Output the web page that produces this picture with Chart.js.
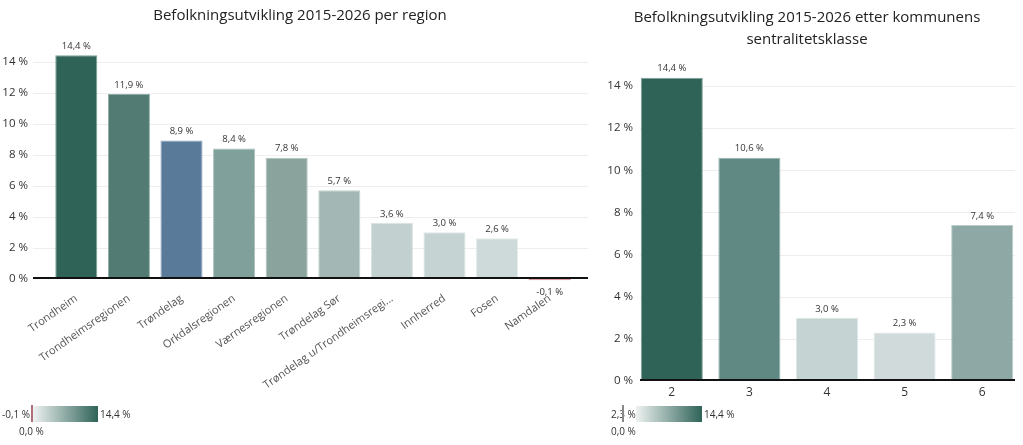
<!DOCTYPE html>
<html>
<head>
<meta charset="utf-8">
<script src="https://cdn.jsdelivr.net/npm/chart.js@4.4.1/dist/chart.umd.min.js"></script>
<style>
  body { margin: 0; background: #fff; font-family: "Open Sans", sans-serif; }
  #wrap { position: relative; width: 1023px; height: 445px; overflow: hidden; }
  canvas { position: absolute; top: 0; }
  .lg { position: absolute; font-size: 10px; line-height: 14px; color: #333; white-space: nowrap; }
  .bar { position: absolute; height: 16px; }
  .mark { position: absolute; width: 2px; height: 17px; }
</style>
</head>
<body>
<div id="wrap">
  <canvas id="regionChart" width="595" height="445" style="left:0"></canvas>
  <canvas id="classChart" width="423" height="445" style="left:600px"></canvas>

  <div class="lg" style="left:2px; top:407px">-0,1 %</div>
  <div class="mark" style="left:31px; top:405px; background:#b0707a"></div>
  <div class="bar" style="left:33px; top:406px; width:65px; background:linear-gradient(to right,#eef2f1,#2f6358)"></div>
  <div class="lg" style="left:100px; top:407px">14,4 %</div>
  <div class="lg" style="left:19px; top:424px">0,0 %</div>

  <div class="lg" style="left:611px; top:407px">2,3 %</div>
  <div class="mark" style="left:622px; top:405px; background:#888"></div>
  <div class="bar" style="left:636px; top:406px; width:66px; background:linear-gradient(to right,#eef2f1,#2f6358)"></div>
  <div class="lg" style="left:704px; top:407px">14,4 %</div>
  <div class="lg" style="left:611px; top:424px">0,0 %</div>
</div>
<script>
// befolkningsutvikling per region
var regions = ['Trondheim', 'Trondheimsregionen', 'Trøndelag', 'Orkdalsregionen', 'Værnesregionen',
    'Trøndelag Sør', 'Trøndelag u/Trondheimsregi...', 'Innherred', 'Fosen', 'Namdalen'];
var regionValues = [14.4, 11.9, 8.9, 8.4, 7.8, 5.7, 3.6, 3.0, 2.6, -0.1];

// etter sentralitetsklasse
var classes = ['2', '3', '4', '5', '6'];
var classValues = [14.4, 10.6, 3.0, 2.3, 7.4];

var yTicks = [0, 2, 4, 6, 8, 10, 12, 14];

var regionColors = ['#2f6358', '#527b74', '#5a7a99', '#80a09b', '#8aa39d',
    '#a3b8b5', '#c2d1d0', '#c6d3d3', '#cddad9', '#cf7c88'];
var regionBorders = ['#7fa39b', '#8fada8', '#8ea5bd', '#a8bfbb', '#b0c3bf',
    '#c3d3d1', '#dae4e3', '#dde6e6', '#e2eaea', '#cf7c88'];
var classColors = ['#2f6358', '#5f8982', '#c6d3d3', '#d0dada', '#8ea8a5'];
var classBorders = ['#7fa39b', '#9bb6b1', '#dde6e6', '#e4eaea', '#b8cbc9'];

function fmt(v) {
    return v.toFixed(1).replace('.', ',') + ' %';
}

// title, grid lines, zero line and value labels
var extras = {
    id: 'extras',
    beforeDatasetsDraw: function (chart, args, opts) {
        var ctx = chart.ctx, a = chart.chartArea, y = chart.scales.y;
        ctx.save();
        ctx.strokeStyle = '#eeeeee';
        ctx.lineWidth = 1;
        yTicks.forEach(function (t) {
            if (t === 0) return;
            var py = Math.round(y.getPixelForValue(t)) + 0.5;
            ctx.beginPath();
            ctx.moveTo(a.left - opts.left, py);
            ctx.lineTo(a.right + opts.right, py);
            ctx.stroke();
        });
        ctx.restore();
    },
    afterDatasetsDraw: function (chart, args, opts) {
        var ctx = chart.ctx, a = chart.chartArea, y = chart.scales.y;
        ctx.save();
        // zero line sits just above the baseline so a tiny negative bar stays visible
        var zy = Math.round(y.getPixelForValue(0)) - 1;
        ctx.strokeStyle = '#111';
        ctx.lineWidth = 2;
        ctx.beginPath();
        ctx.moveTo(a.left - opts.left, zy);
        ctx.lineTo(a.right + opts.right, zy);
        ctx.stroke();

        ctx.fillStyle = '#333';
        ctx.font = opts.labelSize + 'px "Open Sans"';
        ctx.textAlign = 'center';
        ctx.textBaseline = 'middle';
        var data = chart.data.datasets[0].data;
        chart.getDatasetMeta(0).data.forEach(function (bar, i) {
            var v = data[i];
            if (v >= 0) ctx.fillText(fmt(v), bar.x, bar.y - 9);
            else ctx.fillText(fmt(v), bar.x, bar.y + 12);
        });

        ctx.fillStyle = '#222';
        ctx.font = '15px "Open Sans"';
        opts.title.forEach(function (line, i) {
            ctx.fillText(line, opts.titleX, opts.titleY[i]);
        });
        ctx.restore();
    }
};

function makeChart(el, labels, values, colors, borders, cfg) {
    return new Chart(document.getElementById(el), {
        type: 'bar',
        data: {
            labels: labels,
            datasets: [{
                data: values,
                backgroundColor: colors,
                borderColor: borders,
                borderWidth: 1,
                barPercentage: 0.8,
                categoryPercentage: 1
            }]
        },
        options: {
            responsive: false,
            animation: false,
            layout: { padding: { left: 0, right: cfg.padRight, top: cfg.padTop, bottom: 0 } },
            plugins: {
                legend: { display: false },
                tooltip: { enabled: false },
                title: { display: false },
                extras: {
                    left: cfg.gridLeft, right: cfg.gridRight, labelSize: cfg.labelSize,
                    title: cfg.title, titleX: cfg.titleX, titleY: cfg.titleY
                }
            },
            scales: {
                x: {
                    grid: { display: false, drawTicks: false },
                    border: { display: false },
                    ticks: {
                        color: cfg.xColor,
                        font: { family: 'Open Sans', size: cfg.xSize },
                        autoSkip: false,
                        minRotation: cfg.rot,
                        maxRotation: cfg.rot,
                        padding: cfg.xPad
                    },
                    afterFit: function (s) { s.height = cfg.xHeight; }
                },
                y: {
                    min: cfg.yMin,
                    max: 15,
                    grid: { display: false, drawTicks: false },
                    border: { display: false },
                    afterBuildTicks: function (s) {
                        s.ticks = yTicks.map(function (v) { return { value: v }; });
                    },
                    ticks: {
                        color: '#333',
                        font: { family: 'Open Sans', size: 11.5 },
                        padding: cfg.yPad,
                        callback: function (v) { return v + ' %'; }
                    },
                    afterFit: function (s) { s.width = cfg.yWidth; }
                }
            }
        },
        plugins: [extras]
    });
}

makeChart('regionChart', regions, regionValues, regionColors, regionBorders, {
    title: ['Befolkningsutvikling 2015-2026 per region'],
    titleX: 300, titleY: [16],
    padTop: 46, padRight: 19, yWidth: 50, yPad: 22, yMin: -0.15,
    xHeight: 164, xPad: 11, rot: 35, xSize: 11, xColor: '#555',
    gridLeft: 17, gridRight: 12, labelSize: 9.5
});

makeChart('classChart', classes, classValues, classColors, classBorders, {
    title: ['Befolkningsutvikling 2015-2026 etter kommunens', 'sentralitetsklasse'],
    titleX: 207, titleY: [18, 40],
    padTop: 65, padRight: 2, yWidth: 33, yPad: 0, yMin: 0,
    xHeight: 64, xPad: 4, rot: 0, xSize: 12, xColor: '#333',
    gridLeft: -7, gridRight: -6, labelSize: 9.5
});
</script>
</body>
</html>
